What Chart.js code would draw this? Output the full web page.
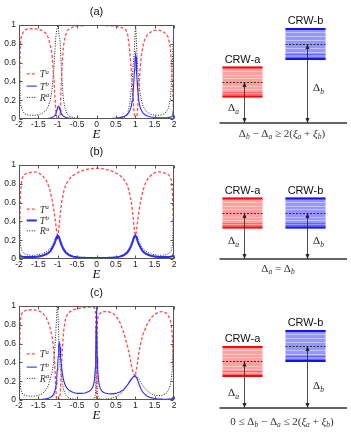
<!DOCTYPE html>
<html><head><meta charset="utf-8">
<script src="https://cdn.jsdelivr.net/npm/chart.js@4.4.1/dist/chart.umd.min.js"></script>
<style>
html,body{margin:0;padding:0;background:#fff}
body{width:351px;height:436px;position:relative;overflow:hidden}
canvas{position:absolute}
</style></head><body>
<canvas id="la" width="180" height="142" style="left:0;top:0"></canvas>
<canvas id="lb" width="180" height="142" style="left:0;top:140px"></canvas>
<canvas id="lc" width="180" height="142" style="left:0;top:281px"></canvas>
<canvas id="ra" width="171" height="140" style="left:180px;top:3px"></canvas>
<canvas id="rb" width="171" height="140" style="left:180px;top:139px"></canvas>
<canvas id="rc" width="171" height="140" style="left:180px;top:288px"></canvas>
<script>
// ---------- data ----------
const X_TICKS = [-2,-1.5,-1,-0.5,0,0.5,1,1.5,2];
const Y_TICKS = [0,0.2,0.4,0.6,0.8,1];
const PANEL_LABELS = ['(a)','(b)','(c)'];
const SERIES_NAMES = [['T','a'],['T','b'],['R','a']];
const AXIS_LABEL = 'E';

// panel (a)
const E_A = [-2,-1.99,-1.97,-1.95,-1.9,-1.85,-1.8,-1.7,-1.6,-1.5,-1.4,-1.3,-1.25,-1.2,-1.15,-1.1,-1.07,-1.05,-1.03,-1.01,-1.0,-0.99,-0.98,-0.97,-0.96,-0.95,-0.94,-0.92,-0.9,-0.87,-0.85,-0.8,-0.75,-0.7,-0.6,-0.5,-0.4,-0.3,-0.2,0,0.2,0.4,0.5,0.6,0.7,0.75,0.8,0.85,0.88,0.9,0.92,0.94,0.96,0.98,0.99,1.0,1.01,1.02,1.03,1.04,1.05,1.06,1.08,1.1,1.13,1.16,1.2,1.25,1.3,1.4,1.5,1.6,1.7,1.8,1.85,1.9,1.93,1.95,1.97,1.98,1.99,2.0];
const TA_A = [0,0.3,0.75,0.86,0.92,0.945,0.955,0.96,0.96,0.955,0.94,0.91,0.87,0.8,0.69,0.44,0.22,0.09,0.02,0,0,0,0,0,0,0.01,0.04,0.26,0.46,0.68,0.78,0.89,0.94,0.96,0.98,0.99,0.99,0.995,0.995,0.995,0.995,0.99,0.985,0.978,0.965,0.95,0.91,0.76,0.61,0.5,0.4,0.25,0.12,0.04,0.01,0,0,0,0,0.02,0.05,0.1,0.23,0.38,0.56,0.68,0.78,0.85,0.89,0.925,0.942,0.945,0.935,0.905,0.87,0.78,0.62,0.46,0.26,0.13,0.05,0];
const TB_A = [0,0,0,0,0,0,0,0.001,0.002,0.002,0.003,0.005,0.007,0.01,0.015,0.025,0.04,0.055,0.08,0.11,0.125,0.135,0.14,0.135,0.125,0.11,0.095,0.07,0.052,0.036,0.029,0.018,0.012,0.01,0.007,0.006,0.005,0.005,0.005,0.005,0.006,0.008,0.01,0.015,0.025,0.035,0.05,0.08,0.11,0.14,0.19,0.26,0.37,0.52,0.6,0.66,0.68,0.66,0.58,0.48,0.4,0.33,0.23,0.17,0.12,0.09,0.065,0.045,0.035,0.022,0.016,0.013,0.012,0.013,0.015,0.02,0.025,0.03,0.05,0.08,0.15,0.28];
const RA_A = [1,0.7,0.25,0.14,0.08,0.055,0.045,0.04,0.04,0.045,0.06,0.09,0.13,0.19,0.3,0.54,0.75,0.87,0.94,0.98,1.0,0.99,0.95,0.9,0.87,0.86,0.84,0.66,0.48,0.29,0.2,0.095,0.05,0.03,0.015,0.008,0.005,0.004,0.004,0.004,0.004,0.005,0.006,0.01,0.015,0.025,0.05,0.14,0.25,0.33,0.42,0.53,0.63,0.75,0.85,0.95,1.0,0.93,0.82,0.72,0.62,0.55,0.45,0.37,0.27,0.2,0.14,0.1,0.075,0.05,0.04,0.04,0.045,0.075,0.11,0.2,0.35,0.5,0.7,0.82,0.9,1.0];

// panel (b)
const E_B = [-2,-1.99,-1.98,-1.96,-1.93,-1.9,-1.85,-1.8,-1.7,-1.6,-1.5,-1.4,-1.3,-1.25,-1.2,-1.15,-1.1,-1.07,-1.04,-1.02,-1.0,-0.98,-0.96,-0.93,-0.9,-0.85,-0.8,-0.75,-0.7,-0.6,-0.5,-0.4,-0.3,-0.2,-0.1,0,0.1,0.2,0.3,0.4,0.5,0.6,0.7,0.75,0.8,0.85,0.9,0.93,0.96,0.98,1.0,1.02,1.04,1.07,1.1,1.15,1.2,1.25,1.3,1.4,1.5,1.6,1.7,1.8,1.85,1.9,1.93,1.96,1.98,1.99,2];
const TA_B = [0,0.2,0.4,0.7,0.84,0.875,0.9,0.91,0.922,0.927,0.918,0.89,0.84,0.79,0.73,0.64,0.52,0.43,0.33,0.27,0.25,0.3,0.38,0.5,0.6,0.71,0.78,0.82,0.85,0.89,0.915,0.935,0.948,0.958,0.963,0.965,0.963,0.958,0.948,0.935,0.915,0.89,0.85,0.82,0.78,0.71,0.6,0.5,0.38,0.3,0.25,0.27,0.33,0.43,0.52,0.64,0.73,0.79,0.84,0.89,0.918,0.927,0.922,0.91,0.9,0.875,0.84,0.7,0.4,0.2,0];
const TB_B = [0.06,0.045,0.038,0.03,0.026,0.023,0.021,0.02,0.02,0.022,0.027,0.035,0.05,0.062,0.08,0.11,0.15,0.18,0.22,0.24,0.25,0.24,0.22,0.18,0.145,0.1,0.072,0.053,0.04,0.025,0.018,0.014,0.012,0.011,0.01,0.01,0.01,0.011,0.012,0.014,0.018,0.025,0.04,0.053,0.072,0.1,0.145,0.18,0.22,0.24,0.25,0.24,0.22,0.18,0.15,0.11,0.08,0.062,0.05,0.035,0.027,0.022,0.02,0.02,0.021,0.023,0.026,0.03,0.04,0.05,0.07];
const RA_B = [1.0,0.6,0.35,0.15,0.09,0.07,0.055,0.045,0.04,0.04,0.045,0.055,0.075,0.09,0.11,0.14,0.18,0.21,0.24,0.25,0.255,0.25,0.235,0.205,0.17,0.125,0.09,0.065,0.048,0.028,0.017,0.011,0.008,0.006,0.005,0.005,0.005,0.006,0.008,0.011,0.017,0.028,0.048,0.065,0.09,0.125,0.17,0.205,0.235,0.25,0.255,0.25,0.24,0.21,0.18,0.14,0.11,0.09,0.075,0.055,0.045,0.04,0.04,0.045,0.055,0.07,0.09,0.15,0.35,0.6,1.0];

// panel (c)
const E_C = [-2,-1.99,-1.97,-1.95,-1.9,-1.8,-1.7,-1.6,-1.5,-1.4,-1.3,-1.25,-1.2,-1.15,-1.12,-1.1,-1.08,-1.06,-1.05,-1.04,-1.03,-1.02,-1.01,-1.0,-0.99,-0.98,-0.97,-0.96,-0.95,-0.94,-0.93,-0.92,-0.9,-0.88,-0.85,-0.8,-0.75,-0.7,-0.6,-0.5,-0.4,-0.3,-0.2,-0.15,-0.1,-0.07,-0.05,-0.03,-0.02,-0.01,0,0.01,0.02,0.03,0.05,0.07,0.1,0.15,0.2,0.3,0.4,0.5,0.6,0.7,0.8,0.85,0.9,0.95,1.0,1.05,1.1,1.15,1.2,1.3,1.4,1.5,1.6,1.7,1.8,1.85,1.9,1.93,1.95,1.97,1.99,2.0];
const TA_C = [0,0.4,0.8,0.9,0.94,0.955,0.96,0.958,0.95,0.93,0.88,0.83,0.77,0.68,0.6,0.5,0.38,0.22,0.13,0.06,0.02,0,0,0,0,0,0,0,0.02,0.06,0.12,0.2,0.38,0.55,0.73,0.86,0.91,0.935,0.96,0.972,0.978,0.983,0.987,0.988,0.988,0.985,0.98,0.96,0.9,0.6,0,0.5,0.8,0.86,0.9,0.915,0.925,0.935,0.94,0.94,0.925,0.895,0.83,0.72,0.57,0.48,0.37,0.28,0.25,0.37,0.52,0.62,0.7,0.8,0.87,0.91,0.935,0.94,0.925,0.9,0.86,0.8,0.72,0.55,0.22,0];
const TB_C = [0,0.001,0.002,0.002,0.002,0.003,0.003,0.004,0.005,0.007,0.012,0.017,0.026,0.04,0.055,0.07,0.09,0.12,0.14,0.17,0.21,0.26,0.32,0.39,0.46,0.53,0.58,0.61,0.6,0.56,0.5,0.44,0.35,0.28,0.21,0.15,0.12,0.1,0.08,0.07,0.07,0.075,0.09,0.105,0.135,0.17,0.23,0.34,0.48,0.75,1.0,0.72,0.45,0.33,0.22,0.16,0.12,0.09,0.078,0.066,0.065,0.07,0.085,0.11,0.16,0.19,0.22,0.245,0.255,0.225,0.165,0.115,0.08,0.042,0.025,0.016,0.011,0.009,0.008,0.009,0.011,0.014,0.018,0.025,0.04,0.05];
const RA_C = [1,0.6,0.2,0.1,0.06,0.045,0.04,0.04,0.05,0.065,0.11,0.15,0.21,0.29,0.36,0.42,0.52,0.65,0.72,0.8,0.88,0.96,1.0,0.97,0.88,0.75,0.6,0.5,0.43,0.37,0.33,0.3,0.24,0.18,0.11,0.055,0.032,0.02,0.01,0.006,0.004,0.004,0.005,0.006,0.008,0.012,0.02,0.05,0.12,0.45,0.95,0.35,0.1,0.05,0.025,0.015,0.01,0.008,0.008,0.012,0.02,0.035,0.06,0.1,0.16,0.2,0.23,0.25,0.26,0.25,0.22,0.185,0.15,0.1,0.07,0.05,0.045,0.05,0.07,0.1,0.15,0.22,0.3,0.5,0.8,1.0];

// schematic values (energy units relative to ground line)
const CRW_NAMES = ['CRW-a','CRW-b'];
const DELTA_A = [4.1, 4.6, 4.65];
const DELTA_B = [7.9, 4.6, 6.2];
const XI_A = [1.55, 1.55, 1.55];
const XI_B = [1.6, 1.55, 1.6];
const CONDITIONS = [
  [['Δ',0],['b',1],[' − ',0],['Δ',0],['a',1],[' ≥ 2(',0],['ξ',2],['a',1],[' + ',0],['ξ',2],['b',1],[')',0]],
  [['Δ',0],['a',1],[' = ',0],['Δ',0],['b',1]],
  [['0 ≤ ',0],['Δ',0],['b',1],[' − ',0],['Δ',0],['a',1],[' ≤ 2(',0],['ξ',2],['a',1],[' + ',0],['ξ',2],['b',1],[')',0]]
];

// ---------- helpers ----------
const SERIF = '"Liberation Serif", "DejaVu Serif", serif';
const SANS = '"Liberation Sans", Arial, sans-serif';
function fontFor(k, s){
  if (k===1 || k===3) return `italic ${(s*0.68).toFixed(1)}px ${SERIF}`;
  if (k===2 || k===4) return `italic ${s}px ${SERIF}`;
  return `${s}px ${SERIF}`;
}
function richWidth(ctx, parts, s){
  let w=0; for (const [t,k] of parts){ ctx.font=fontFor(k,s); w+=ctx.measureText(t).width; } return w;
}
function drawRich(ctx, parts, x, yBase, s, align){
  const w = richWidth(ctx, parts, s);
  let cx = align==='center' ? x - w/2 : x;
  ctx.textAlign='left'; ctx.textBaseline='alphabetic';
  for (const [t,k] of parts){
    ctx.font=fontFor(k,s);
    const dy = k===1 ? s*0.25 : (k===3 ? -s*0.38 : 0);
    ctx.fillText(t, cx, yBase+dy);
    cx += ctx.measureText(t).width;
  }
}

// ---------- left plots ----------
const plotPlugin = {
  id:'plotDeco',
  afterDraw(chart, args, o){
    const {ctx, chartArea:a, scales:{x,y}} = chart;
    ctx.save();
    ctx.strokeStyle='#555'; ctx.lineWidth=1; ctx.setLineDash([]);
    const L=Math.round(a.left)+0.5, R=Math.round(a.right)-0.5, T=Math.round(a.top)+0.5, B=Math.round(a.bottom)-0.5;
    ctx.strokeRect(L,T,R-L,B-T);
    ctx.beginPath();
    X_TICKS.forEach(v=>{ const px=Math.round(x.getPixelForValue(v))+0.5; ctx.moveTo(px,B); ctx.lineTo(px,B-3); ctx.moveTo(px,T); ctx.lineTo(px,T+3); });
    Y_TICKS.forEach(v=>{ const py=Math.round(y.getPixelForValue(v))+0.5; ctx.moveTo(L,py); ctx.lineTo(L+3,py); ctx.moveTo(R,py); ctx.lineTo(R-3,py); });
    ctx.stroke();
    ctx.fillStyle='#111'; ctx.font=`11px ${SANS}`; ctx.textAlign='center'; ctx.textBaseline='middle';
    ctx.fillText(o.title, (a.left+a.right)/2, a.top-13);
    ctx.font=`italic 13px ${SERIF}`;
    ctx.fillText(AXIS_LABEL, (a.left+a.right)/2, a.bottom+16);
    const x0=x.getPixelForValue(-1.8), x1=x.getPixelForValue(-1.54);
    chart.data.datasets.forEach((ds,i)=>{
      const py=y.getPixelForValue(o.legendY[i]);
      ctx.strokeStyle=ds.borderColor; ctx.lineWidth=ds.borderWidth; ctx.setLineDash(ds.borderDash||[]);
      ctx.beginPath(); ctx.moveTo(x0,py); ctx.lineTo(x1,py); ctx.stroke();
      ctx.fillStyle='#333';
      drawRich(ctx, [[SERIES_NAMES[i][0],4],[SERIES_NAMES[i][1],3]], x1+3, py+3.5, 10, 'left');
    });
    ctx.restore();
  }
};

function lineChart(id, k, E, TA, TB, RA, legendY, tbWidth){
  const pts = ys => E.map((e,i)=>({x:e, y:ys[i]}));
  const tickFont = {family:'Liberation Sans', size:8.5};
  return new Chart(document.getElementById(id), {
    type:'line',
    data:{datasets:[
      {label:'Ta', data:pts(TA), borderColor:'#ff4a4a', borderWidth:1.3, borderDash:[3,2], pointRadius:0, tension:0, order:1},
      {label:'Tb', data:pts(TB), borderColor:'#2b2bff', borderWidth:tbWidth, pointRadius:0, tension:0, order:0},
      {label:'Ra', data:pts(RA), borderColor:'#1a1a1a', borderWidth:1, borderDash:[1,1.5], pointRadius:0, tension:0, order:2}
    ]},
    options:{
      responsive:false, animation:false, events:[],
      layout:{padding:{top:25,right:6,left:0,bottom:0}},
      scales:{
        x:{type:'linear', min:-2, max:2,
           afterBuildTicks:s=>{ s.ticks = X_TICKS.map(v=>({value:v})); },
           afterFit:s=>{ s.height=23; },
           grid:{display:false, drawTicks:false}, border:{display:false},
           ticks:{padding:1, autoSkip:false, maxRotation:0, font:tickFont, color:'#222', callback:v=>String(v)}},
        y:{type:'linear', min:0, max:1,
           afterBuildTicks:s=>{ s.ticks = Y_TICKS.map(v=>({value:v})); },
           afterFit:s=>{ s.width=19; },
           grid:{display:false, drawTicks:false}, border:{display:false},
           ticks:{padding:3, autoSkip:false, font:tickFont, color:'#222', callback:v=>String(v)}}
      },
      plugins:{legend:{display:false}, tooltip:{enabled:false},
        plotDeco:{title:PANEL_LABELS[k], legendY:legendY}}
    },
    plugins:[plotPlugin]
  });
}

lineChart('la',0,E_A,TA_A,TB_A,RA_A,[0.48,0.35,0.23],1.1);
lineChart('lb',1,E_B,TA_B,TB_B,RA_B,[0.53,0.41,0.3],2);
lineChart('lc',2,E_C,TA_C,TB_C,RA_C,[0.49,0.35,0.23],1.1);

// ---------- schematics ----------
const STRIPES = [[0.14,0],[0.26,0],[0.37,0],[0.63,0],[0.74,0],[0.82,1],[0.9,1]];
const BOX_STYLE = [
  {fill:'rgb(255,160,160)', light:'rgb(255,198,198)', dark:'rgb(250,105,105)', edge:'rgb(240,12,12)'},
  {fill:'rgb(150,150,255)', light:'rgb(195,195,255)', dark:'rgb(100,100,245)', edge:'rgb(20,20,232)'}
];
function arrow(ctx, x, yFrom, yTo){
  ctx.beginPath(); ctx.moveTo(x, yFrom); ctx.lineTo(x, yTo); ctx.stroke();
  const head=(yt,dir)=>{ ctx.beginPath(); ctx.moveTo(x,yt); ctx.lineTo(x-2,yt+dir*5); ctx.lineTo(x+2,yt+dir*5); ctx.closePath(); ctx.fill(); };
  head(yTo, 1); head(yFrom, -1);
}
const schemePlugin = {
  id:'scheme',
  afterDatasetsDraw(chart, args, o){
    const {ctx, scales:{y}} = chart;
    const meta = chart.getDatasetMeta(0);
    const y0 = y.getPixelForValue(0);
    const deltas = [DELTA_A[o.k], DELTA_B[o.k]];
    ctx.save();
    meta.data.forEach((bar,i)=>{
      const st = BOX_STYLE[i];
      const L = bar.x - bar.width/2, R = bar.x + bar.width/2;
      const top = Math.min(bar.y, bar.base), bot = Math.max(bar.y, bar.base), H = bot-top;
      ctx.lineWidth=1; ctx.setLineDash([]);
      STRIPES.forEach(([f,d])=>{
        const py = Math.round(top + f*H)+0.5;
        ctx.strokeStyle = d ? st.dark : st.light;
        ctx.beginPath(); ctx.moveTo(L,py); ctx.lineTo(R,py); ctx.stroke();
      });
      ctx.fillStyle = st.edge;
      ctx.fillRect(L, top, R-L, 2); ctx.fillRect(L, bot-2, R-L, 2);
      const yc = y.getPixelForValue(deltas[i]);
      ctx.strokeStyle='#222'; ctx.lineWidth=0.9; ctx.setLineDash([2,1.5]);
      ctx.beginPath(); ctx.moveTo(L, Math.round(yc)+0.5); ctx.lineTo(R, Math.round(yc)+0.5); ctx.stroke();
      ctx.setLineDash([]);
      ctx.fillStyle='#111'; ctx.font=`11px ${SANS}`; ctx.textAlign='center'; ctx.textBaseline='middle';
      ctx.fillText(CRW_NAMES[i], bar.x, top-7);
      const ax = Math.round(bar.x)+1.5;
      ctx.strokeStyle='#222'; ctx.fillStyle='#222'; ctx.lineWidth=0.8;
      arrow(ctx, ax, y0, yc);
      const ly = y.getPixelForValue(o.labelAt[i]);
      ctx.fillStyle='#222';
      const parts = [['Δ',0],[i===0?'a':'b',1]];
      drawRich(ctx, parts, i===0 ? ax-11 : ax+11, ly+4, 11, 'center');
    });
    const barA = meta.data[0];
    ctx.strokeStyle='#333'; ctx.lineWidth=1.6;
    ctx.beginPath(); ctx.moveTo(barA.x - barA.width/2 - 3, y0); ctx.lineTo(chart.width-4, y0); ctx.stroke();
    ctx.fillStyle='#333';
    drawRich(ctx, CONDITIONS[o.k], o.eqX, y0 + o.eqDy + 3.5, 11, 'center');
    ctx.restore();
  }
};
function scheme(id, k, labelAt, eqX, eqDy){
  return new Chart(document.getElementById(id), {
    type:'bar',
    data:{labels:CRW_NAMES, datasets:[{
      data:[[DELTA_A[k]-XI_A[k], DELTA_A[k]+XI_A[k]],[DELTA_B[k]-XI_B[k], DELTA_B[k]+XI_B[k]]],
      backgroundColor:[BOX_STYLE[0].fill, BOX_STYLE[1].fill], borderWidth:0,
      barPercentage:0.635, categoryPercentage:1
    }]},
    options:{
      responsive:false, animation:false, events:[],
      layout:{padding:{left:31,right:14,top:0,bottom:0}},
      scales:{x:{display:false, offset:true}, y:{display:false, min:-2, max:12}},
      plugins:{legend:{display:false}, tooltip:{enabled:false}, scheme:{k, labelAt, eqX, eqDy}}
    },
    plugins:[schemePlugin]
  });
}
scheme('ra',0,[1.6,3.6],102,10);
scheme('rb',1,[1.9,1.9],98,9);
scheme('rc',2,[1.6,2.3],102,13);
</script>
</body></html>
